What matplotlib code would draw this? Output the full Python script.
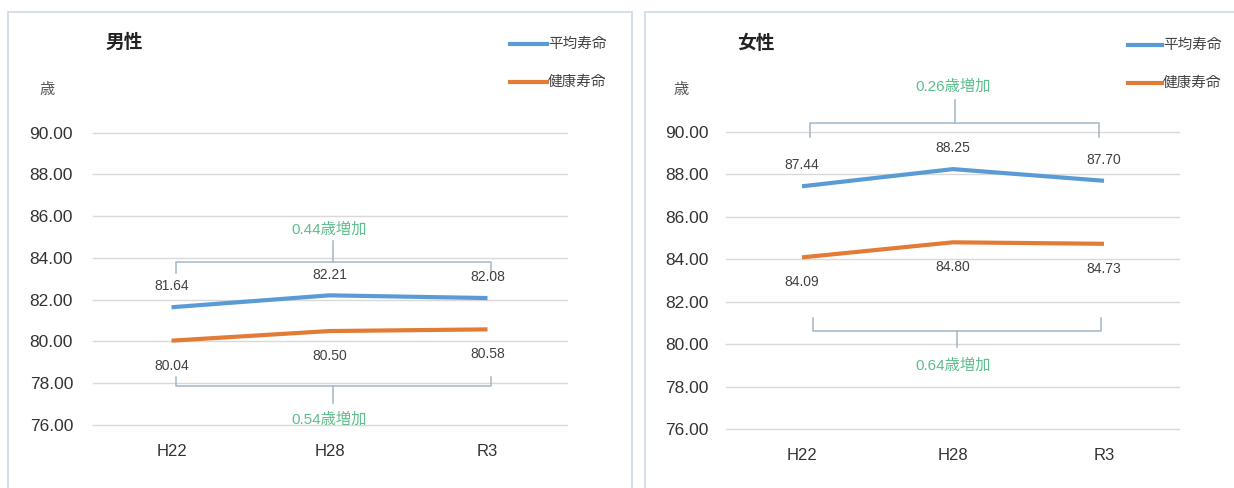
import matplotlib
matplotlib.use("Agg")
import matplotlib.pyplot as plt

plt.rcParams['font.family'] = ['Liberation Sans', 'Noto Sans CJK JP', 'DejaVu Sans']

# Data
categories = ["H22", "H28", "R3"]
male_avg = [81.64, 82.21, 82.08]
male_healthy = [80.04, 80.50, 80.58]
female_avg = [87.44, 88.25, 87.70]
female_healthy = [84.09, 84.80, 84.73]
y_ticks = [76, 78, 80, 82, 84, 86, 88, 90]
series_names = ["平均寿命", "健康寿命"]

BLUE = "#5b9bd5"
ORANGE = "#e27b35"
GRID = "#d9d9d9"
BRACKET = "#a3b6c8"
GREEN = "#5cbf8c"
LABEL = "#404040"

W, H = 1234, 488
fig = plt.figure(figsize=(W / 100, H / 100), dpi=100)
fig.patch.set_facecolor("white")


def fx(px):
    return px / W


def fy(py):
    return 1 - py / H


# panel frames
for x0, x1 in [(8, 632), (645, 1240)]:
    fig.add_artist(plt.Rectangle((fx(x0), fy(500)), fx(x1 - x0), (500 - 12) / H,
                                 transform=fig.transFigure, fill=False,
                                 edgecolor="#cdd8e6", lw=1.2))


def bracket(ax, x0, x1, y_h, y_end, y_tip):
    xm = (x0 + x1) / 2
    ax.plot([x0, x0, x1, x1], [y_end, y_h, y_h, y_end], color=BRACKET, lw=1.1,
            clip_on=False, solid_joinstyle="round")
    ax.plot([xm, xm], [y_h, y_tip], color=BRACKET, lw=1.1, clip_on=False)


def panel(rect, avg, healthy, title, title_px, unit_px, legend_px, pad,
          upper, lower):
    ax = fig.add_axes(rect)
    x = list(range(len(categories)))
    ax.plot(x, avg, color=BLUE, lw=3, solid_capstyle="butt", zorder=3)
    ax.plot(x, healthy, color=ORANGE, lw=3, solid_capstyle="butt", zorder=3)
    ax.set_xlim(-0.5, 2.5)
    ax.set_ylim(76, 90)
    ax.set_yticks(y_ticks)
    ax.set_yticklabels([f"{v:.2f}" for v in y_ticks], fontsize=12.5, color="#333333")
    ax.set_xticks(x)
    ax.set_xticklabels(categories, fontsize=12, color="#333333")
    ax.tick_params(axis="both", length=0)
    ax.tick_params(axis="y", pad=pad)
    ax.tick_params(axis="x", pad=14)
    for gl in ax.get_ygridlines():
        gl.set_clip_on(False)
    ax.grid(axis="y", color=GRID, lw=1)
    for gl in ax.get_ygridlines():
        gl.set_clip_on(False)
    ax.set_axisbelow(True)
    for s in ax.spines.values():
        s.set_visible(False)
    ax.patch.set_alpha(0)

    for xi, v in zip(x, avg):
        ax.annotate(f"{v:.2f}", (xi, v), xytext=(0, 15), textcoords="offset points",
                    ha="center", va="center", fontsize=10, color=LABEL)
    for xi, v in zip(x, healthy):
        ax.annotate(f"{v:.2f}", (xi, v), xytext=(0, -18), textcoords="offset points",
                    ha="center", va="center", fontsize=10, color=LABEL)

    # change brackets
    for vals, spec in [(avg, upper), (healthy, lower)]:
        y_h, y_end, y_tip, y_txt, xa, xb = spec
        bracket(ax, xa, xb, y_h, y_end, y_tip)
        diff = vals[-1] - vals[0]
        ax.text(1, y_txt, f"{diff:.2f}歳増加", ha="center", va="center", fontsize=11,
                color=GREEN, clip_on=False)

    fig.text(fx(title_px[0]), fy(title_px[1]), title, ha="center", va="center",
             fontsize=13.5, fontweight="bold", color="#222222")
    fig.text(fx(unit_px[0]), fy(unit_px[1]), "歳", ha="center", va="center",
             fontsize=11, color="#555555")

    lx0, lx1, ly = legend_px
    for i, (name, col) in enumerate(zip(series_names, [BLUE, ORANGE])):
        yy = ly + i * 38
        fig.add_artist(plt.Line2D([fx(lx0), fx(lx1)], [fy(yy), fy(yy)], color=col,
                                  lw=3, transform=fig.transFigure))
        fig.text(fx(lx1 + 1), fy(yy), name, ha="left", va="center", fontsize=10.5,
                 color="#444444")
    return ax


panel([fx(92.5), fy(425), fx(474), (425 - 132.7) / H], male_avg, male_healthy,
      "男性", (124, 43), (47, 90), (510, 547, 44), 14,
      upper=(83.79, 83.28, 84.81, 85.34, 0.03, 2.02),
      lower=(77.88, 78.31, 77.05, 76.24, 0.03, 2.02))

panel([fx(726.5), fy(429), fx(453), (429 - 132) / H], female_avg, female_healthy,
      "女性", (756, 44), (681, 90), (1128, 1162, 45), 13,
      upper=(90.41, 89.78, 91.51, 92.14, 0.05, 1.97),
      lower=(80.63, 81.22, 79.85, 79.01, 0.07, 1.98))

fig.savefig("out.png", dpi=100, facecolor="white")
